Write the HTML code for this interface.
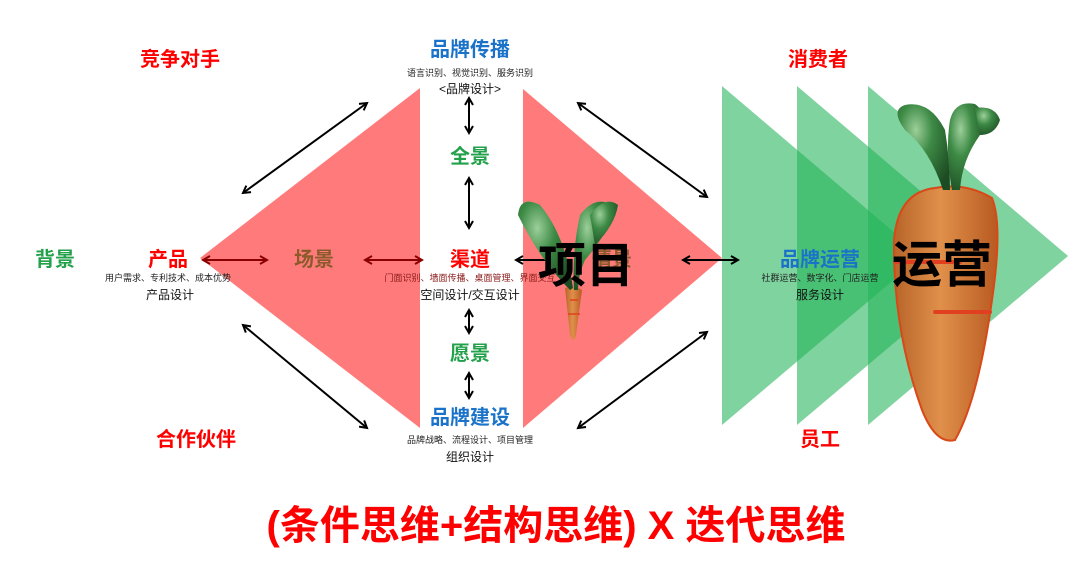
<!DOCTYPE html>
<html><head><meta charset="utf-8"><style>
html,body{margin:0;padding:0;background:#fff;}
body{width:1080px;height:560px;overflow:hidden;font-family:"Liberation Sans","Noto Sans CJK SC",sans-serif;}
</style></head><body>
<svg width="1080" height="560" viewBox="0 0 1080 560" xmlns="http://www.w3.org/2000/svg" font-family="Liberation Sans, Noto Sans CJK SC, sans-serif">
<defs>
<marker id="a" markerWidth="10" markerHeight="10" refX="8" refY="5" orient="auto-start-reverse" markerUnits="userSpaceOnUse"><path d="M1,1 L8,5 L1,9" fill="none" stroke="#000" stroke-width="2"/></marker>
<marker id="r" markerWidth="10" markerHeight="10" refX="8" refY="5" orient="auto-start-reverse" markerUnits="userSpaceOnUse"><path d="M1,1 L8,5 L1,9" fill="none" stroke="#8b0000" stroke-width="2"/></marker>
<linearGradient id="cg" x1="0" x2="1"><stop offset="0" stop-color="#b8642a"/><stop offset="0.45" stop-color="#e0904a"/><stop offset="1" stop-color="#b85a22"/></linearGradient>
<radialGradient id="lg" cx="0.35" cy="0.3" r="0.8"><stop offset="0" stop-color="#9ccf9a"/><stop offset="0.4" stop-color="#3d8a45"/><stop offset="1" stop-color="#1c4a22"/></radialGradient>
</defs>
<polygon points="200,258 420,88 420,428" fill="#ff7b7b"/>
<polygon points="523,89 523,428 722,258" fill="#ff7b7b"/>
<polygon points="722,86 722,425 922,256" fill="#22b358" fill-opacity="0.58"/>
<polygon points="797,86 797,425 997,256" fill="#22b358" fill-opacity="0.58"/>
<polygon points="868,86 868,425 1068,256" fill="#22b358" fill-opacity="0.58"/>

<g stroke="#000" stroke-width="2" marker-start="url(#a)" marker-end="url(#a)">
<line x1="243" y1="193" x2="367" y2="103"/>
<line x1="243" y1="325" x2="367" y2="428"/>
<line x1="578" y1="103" x2="707" y2="197"/>
<line x1="578" y1="428" x2="707" y2="332"/>
<line x1="469" y1="98" x2="469" y2="133"/>
<line x1="469" y1="178" x2="469" y2="228"/>
<line x1="469" y1="310" x2="469" y2="333"/>
<line x1="469" y1="373" x2="469" y2="398"/>
<line x1="683" y1="260" x2="738" y2="260"/>
<line x1="516" y1="260" x2="560" y2="260" marker-end="none"/>
</g>
<g stroke="#8b0000" stroke-width="2" marker-start="url(#r)" marker-end="url(#r)">
<line x1="203" y1="260" x2="267" y2="260"/>
<line x1="365" y1="260" x2="422" y2="260"/>
</g>

<g text-anchor="middle" font-weight="bold">
<text x="180" y="66" font-size="20" fill="#ff0000">竞争对手</text>
<text x="818" y="66" font-size="20" fill="#ff0000">消费者</text>
<text x="470" y="56" font-size="20" fill="#1a73c9">品牌传播</text>
<text x="470" y="76" font-size="9" fill="#222" font-weight="normal">语言识别、视觉识别、服务识别</text>
<text x="470" y="93" font-size="12" fill="#111" font-weight="normal">&lt;品牌设计&gt;</text>
<text x="470" y="163" font-size="20" fill="#22a04a">全景</text>
<text x="55" y="266" font-size="20" fill="#22a04a">背景</text>
<text x="168" y="266" font-size="20" fill="#ff0000">产品</text>
<text x="168" y="281" font-size="9" fill="#222" font-weight="normal">用户需求、专利技术、成本优势</text>
<text x="170" y="299" font-size="12" fill="#111" font-weight="normal">产品设计</text>
<text x="314" y="266" font-size="20" fill="#8b5a2b">场景</text>
<text x="470" y="266" font-size="20" fill="#ff0000">渠道</text>
<text x="470" y="281" font-size="9" fill="#8b1a1a" font-weight="normal">门面识别、墙面传播、桌面管理、界面交互</text>
<text x="470" y="299" font-size="12" fill="#111" font-weight="normal">空间设计/交互设计</text>
<text x="612" y="266" font-size="20" fill="#8b5a2b">情景</text>
<text x="470" y="360" font-size="20" fill="#22a04a">愿景</text>
<text x="470" y="424" font-size="20" fill="#1a73c9">品牌建设</text>
<text x="470" y="443" font-size="9" fill="#222" font-weight="normal">品牌战略、流程设计、项目管理</text>
<text x="470" y="461" font-size="12" fill="#111" font-weight="normal">组织设计</text>
<text x="196" y="446" font-size="20" fill="#ff0000">合作伙伴</text>
<text x="820" y="446" font-size="20" fill="#ff0000">员工</text>
<text x="820" y="266" font-size="20" fill="#1a73c9">品牌运营</text>
<text x="820" y="281" font-size="9" fill="#222" font-weight="normal">社群运营、数字化、门店运营</text>
<text x="820" y="299" font-size="12" fill="#111" font-weight="normal">服务设计</text>
<text x="556" y="539" font-size="40" fill="#ff0000">(条件思维+结构思维) X 迭代思维</text>
</g>

<g>
<path d="M565,288 Q575,285 582,290 L576,335 Q573,345 570,335 Z" fill="url(#cg)"/>
<path d="M570,300 L578,300 M568,314 L580,314" stroke="#e04020" stroke-width="1.5"/>
<path d="M570,290 Q540,260 518,215 Q520,195 540,205 Q565,235 573,288 Z" fill="url(#lg)"/>
<path d="M574,290 Q572,250 580,215 Q595,195 612,205 Q615,225 585,260 Q578,275 578,290 Z" fill="url(#lg)"/>
<path d="M590,215 Q605,195 618,205 Q615,225 595,245 Z" fill="url(#lg)"/>
</g>
<text x="586" y="282" font-size="48" text-anchor="middle" fill="#000" font-weight="bold">项目</text>

<g>
<path d="M935,188 Q898,192 894,240 Q893,330 922,410 Q936,445 955,440 Q978,400 992,300 Q1003,225 992,198 Q965,182 935,188 Z" fill="url(#cg)" stroke="#d84818" stroke-width="2"/>
<path d="M895,262 L960,262 M935,312 L990,312" stroke="#e04020" stroke-width="4" stroke-linecap="round"/>
<path d="M943,190 Q930,150 905,130 Q890,110 905,105 Q930,100 945,130 Q950,160 950,190 Z" fill="url(#lg)"/>
<path d="M952,190 Q945,150 950,120 Q955,100 975,104 Q990,115 980,135 Q962,160 960,190 Z" fill="url(#lg)"/>
<path d="M975,108 Q995,105 1000,120 Q995,135 980,135 Z" fill="url(#lg)"/>
</g>
<text x="942" y="282" font-size="50" text-anchor="middle" fill="#000" font-weight="bold">运营</text>
</svg>
</body></html>
